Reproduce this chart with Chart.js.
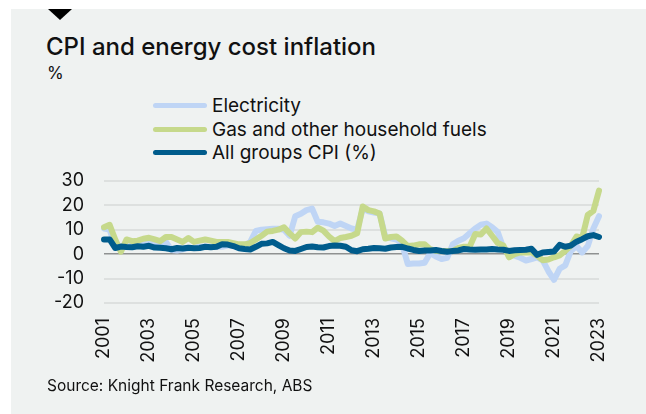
<!DOCTYPE html>
<html>
<head>
<meta charset="utf-8">
<script src="https://cdn.jsdelivr.net/npm/chart.js@4.4.0/dist/chart.umd.min.js"></script>
<style>
  body { margin: 0; background: #fff; font-family: Inter, "Liberation Sans", sans-serif; color: #111; }
  .page { position: relative; width: 646px; height: 414px; overflow: hidden; }
  .panel { position: absolute; left: 11px; top: 9px; width: 635px; height: 405px; background: #eff2f1; }
  .marker { position: absolute; left: 48px; top: 9px; width: 0; height: 0;
    border-left: 12px solid transparent; border-right: 12px solid transparent; border-top: 11px solid #000; }
  .title { position: absolute; left: 46px; top: 35px; font-size: 24px; line-height: 24px; font-weight: 500; }
  .unit { position: absolute; left: 47px; top: 65px; font-size: 17px; line-height: 17px; }
  .legend-item { position: absolute; left: 153px; height: 19px; }
  .legend-item .swatch { position: absolute; left: 0; top: 7px; width: 54px; height: 5px; border-radius: 3px; }
  .legend-item .label { position: absolute; left: 59px; top: 0; white-space: nowrap; font-size: 19px; line-height: 19px; }
  .source { position: absolute; left: 47px; top: 378px; font-size: 15.5px; line-height: 16px; }
  .chart-box { position: absolute; left: 0; top: 150px; width: 646px; height: 230px; }
</style>
</head>
<body>
<div class="page">
  <div class="panel"></div>
  <div class="marker"></div>
  <div class="title">CPI and energy cost inflation</div>
  <div class="unit">%</div>
  <div id="legend"></div>
  <div class="chart-box"><canvas id="chart"></canvas></div>
  <div class="source">Source: Knight Frank Research, ABS</div>
</div>
<script>
// quarterly, annual % change, Mar-2001 .. Mar-2023
var years = ['2001','2002','2003','2004','2005','2006','2007','2008','2009','2010','2011','2012',
             '2013','2014','2015','2016','2017','2018','2019','2020','2021','2022','2023'];
var quarters = ['Mar','Jun','Sep','Dec'];

var electricity = [
  10.5, 10, 3, 3, 3, 3.5, 3.5, 4, 4.5, 5,
  5, 5, 1.7, 1.5, 2, 2.5, 2.5, 3, 3, 3,
  3, 3, 3.5, 3.5, 3, 3.5, 5, 9.5, 10, 10.2,
  10.4, 10.4, 10, 7.5, 15.5, 16.5, 18, 18.6, 13.2, 13,
  12.5, 11.5, 12.5, 11.5, 10.5, 10, 18.6, 17.5, 17, 16.6,
  7.2, 6.5, 6, 4, -4, -3.8, -3.8, -3.5, 0.5, -1,
  -2, -1.5, 4, 5.5, 6.5, 8.5, 10.5, 12, 12.5, 11,
  9, 2.5, 0, -0.6, -1.5, -2.6, -2, -1.3, -2.6, -7,
  -10.5, -6, -4.6, 1.3, 3.3, 0.7, 3.3, 10.5, 15.5
];
var gas = [
  11, 12, 6, 1, 6, 5.3, 5.5, 6.3, 6.7, 6,
  5.3, 7, 7, 6, 5, 6.6, 5, 5.5, 6, 5.5,
  5, 5, 5, 4.5, 4, 4, 4.5, 6, 7.5, 9.2,
  9.5, 10, 11, 8.5, 6.4, 9, 9.2, 9, 10.8, 9.6,
  7.2, 5.3, 6.6, 7, 7.5, 8.5, 19.5, 18, 17.5, 16.6,
  6.4, 7, 7.2, 5.5, 3.3, 3.5, 4, 4, 2, 1.3,
  1.3, 1.3, 1.3, 2.5, 3, 3, 8.2, 8, 10.5, 7.5,
  4.5, 3.5, -1.3, 0, 0.7, 0.7, 0.7, -0.6, -2.5, -2.2,
  -1.3, -0.5, 1.3, 3.5, 7.2, 6.6, 16, 17.7, 26
];
var cpi = [
  6.0, 6.0, 2.5, 3.1, 2.9, 2.8, 3.2, 3.0, 3.4, 2.7,
  2.6, 2.4, 2.0, 2.5, 2.3, 2.6, 2.4, 2.5, 3.0, 2.8,
  3.0, 4.0, 3.9, 3.3, 2.4, 2.1, 1.9, 3.0, 4.2, 4.4,
  5.0, 3.7, 2.4, 1.5, 1.3, 2.1, 2.9, 3.1, 2.8, 2.7,
  3.3, 3.5, 3.4, 3.0, 1.6, 1.2, 2.0, 2.2, 2.5, 2.4,
  2.2, 2.7, 2.9, 3.0, 2.3, 1.7, 1.3, 1.5, 1.5, 1.7,
  1.3, 1.0, 1.3, 1.5, 2.1, 1.9, 1.8, 1.9, 1.9, 2.1,
  1.9, 1.8, 1.3, 1.6, 1.7, 1.8, 2.2, -0.3, 0.7, 0.9,
  1.1, 3.8, 3.0, 3.5, 5.1, 6.1, 7.3, 7.8, 7.0
];

var labels = [];
years.forEach(function(y){
  quarters.forEach(function(q){
    if(labels.length < cpi.length) labels.push(q + ' ' + y);
  });
});

var series = [
  { name: 'Electricity', data: electricity, color: '#bfd5f5', order: 2 },
  { name: 'Gas and other household fuels', data: gas, color: '#c6d98b', order: 1 },
  { name: 'All groups CPI (%)', data: cpi, color: '#005c8c', order: 0 }
];

// html legend
var legendTop = 96;
series.forEach(function(s, i){
  var item = document.createElement('div');
  item.className = 'legend-item';
  item.style.top = (legendTop + i * 23.5) + 'px';
  item.innerHTML = "<div class='swatch' style='background:" + s.color + "'></div><div class='label'>" + s.name + "</div>";
  document.getElementById('legend').appendChild(item);
});

var tickFont = { family: 'Inter, "Liberation Sans", sans-serif', size: 18 };

new Chart(document.getElementById('chart'), {
  type: 'line',
  data: {
    labels: labels,
    datasets: series.map(function(s){
      return {
        label: s.name,
        data: s.data,
        borderColor: s.color,
        borderWidth: 6,
        pointRadius: 0,
        tension: 0,
        fill: false,
        order: s.order,
        borderJoinStyle: 'round',
        borderCapStyle: 'round'
      };
    })
  },
  options: {
    responsive: true,
    maintainAspectRatio: false,
    animation: false,
    layout: { padding: { top: 27, right: 47, left: 0, bottom: 0 } },
    plugins: { legend: { display: false }, tooltip: { enabled: false } },
    scales: {
      x: {
        grid: { display: false, drawTicks: false },
        border: { display: false },
        ticks: {
          autoSkip: false,
          minRotation: 90,
          maxRotation: 90,
          padding: 15,
          color: '#111',
          font: tickFont,
          callback: function(val, idx){
            return idx % 8 === 0 ? years[idx / 4] : null;
          }
        },
        afterFit: function(scale){ scale.height = 77; }
      },
      y: {
        min: -20,
        max: 30,
        grid: {
          drawTicks: false,
          color: function(c){ return c.tick.value === 0 ? '#8f9191' : '#dde0df'; },
          lineWidth: function(c){ return c.tick.value === 0 ? 1.5 : 2; }
        },
        border: { display: false },
        ticks: { stepSize: 10, autoSkip: false, padding: 20, color: '#111', font: tickFont },
        afterFit: function(scale){ scale.width = 104; }
      }
    }
  }
});
</script>
</body>
</html>
